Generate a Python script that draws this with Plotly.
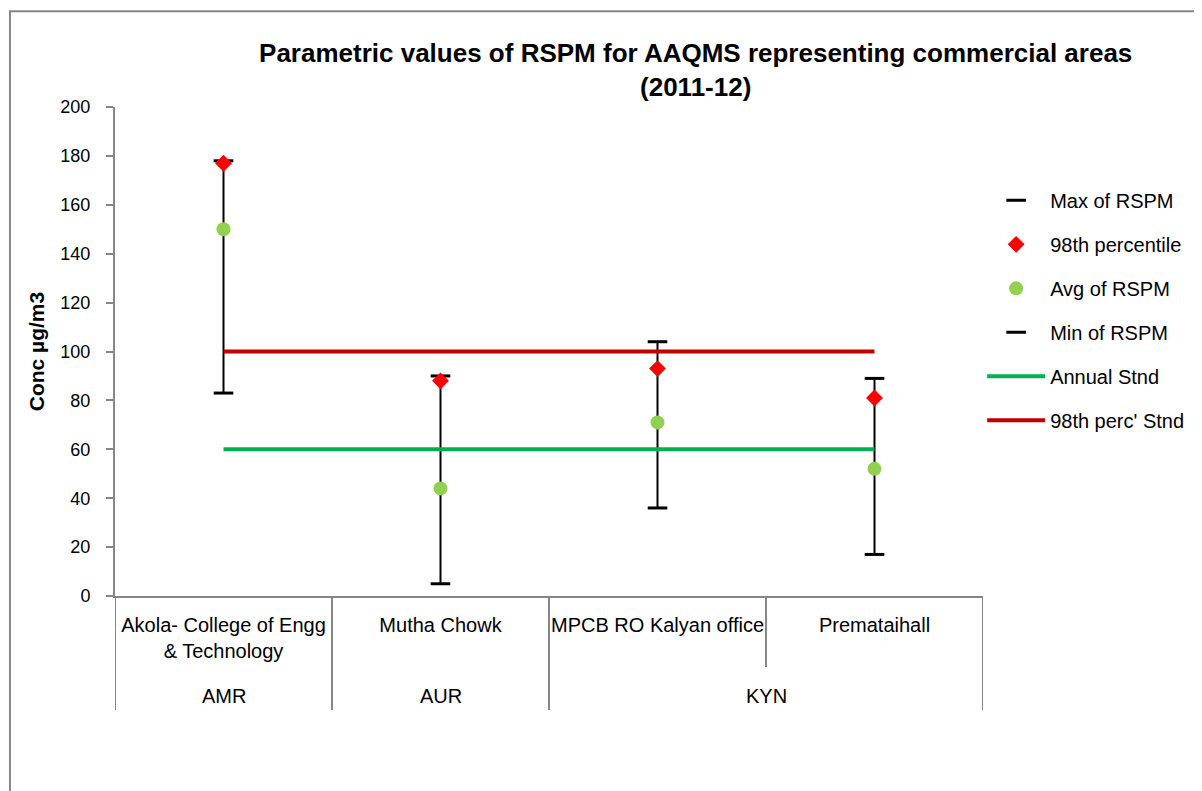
"""
Valores paramétricos de RSPM para estaciones AAQMS en zonas comerciales (2011-12).
"""

import plotly.graph_objects as go

# Estaciones y sus regiones.
SITIOS = [
    "Akola- College of Engg & Technology",
    "Mutha Chowk",
    "MPCB RO Kalyan office",
    "Premataihall",
]
ETIQUETAS = [
    "Akola- College of Engg<br>& Technology",
    "Mutha Chowk",
    "MPCB RO Kalyan office",
    "Premataihall",
]
REGIONES = ["AMR", "AUR", "KYN"]
REGION_POS = [0, 1, 2.5]

# Valores.
MAX_RSPM = [178, 90, 104, 89]
PERC_98 = [177, 88, 93, 81]
AVG_RSPM = [150, 44, 71, 52]
MIN_RSPM = [83, 5, 36, 17]

ANNUAL_STND = [60, 60, 60, 60]
PERC_STND = [100, 100, 100, 100]

FUENTE = "Liberation Sans Narrow, Arial Narrow, Liberation Sans, Arial, sans-serif"
GRIS = "#868686"


fig = go.Figure()

# Líneas de máximo a mínimo.
xs, ys = [], []
for s, a, b in zip(SITIOS, MIN_RSPM, MAX_RSPM):
    xs += [s, s, None]
    ys += [a, b, None]

fig.add_trace(
    go.Scatter(
        x=xs,
        y=ys,
        mode="lines",
        line_color="#000000",
        line_width=2,
        showlegend=False,
        hoverinfo="skip",
    )
)

fig.add_trace(
    go.Scatter(
        x=SITIOS,
        y=ANNUAL_STND,
        mode="lines",
        name="Annual Stnd",
        line_color="#00B050",
        line_width=4,
        legendgroup="e",
        legendrank=5,
    )
)

fig.add_trace(
    go.Scatter(
        x=SITIOS,
        y=PERC_STND,
        mode="lines",
        name="98th perc' Stnd",
        line_color="#C00000",
        line_width=4,
        legendgroup="f",
        legendrank=6,
    )
)

fig.add_trace(
    go.Scatter(
        x=SITIOS,
        y=MAX_RSPM,
        mode="markers",
        name="Max of RSPM",
        marker_symbol="line-ew",
        marker_size=14,
        marker_line_width=3,
        marker_line_color="#000000",
        legendgroup="a",
        legendrank=1,
    )
)

fig.add_trace(
    go.Scatter(
        x=SITIOS,
        y=MIN_RSPM,
        mode="markers",
        name="Min of RSPM",
        marker_symbol="line-ew",
        marker_size=14,
        marker_line_width=3,
        marker_line_color="#000000",
        legendgroup="d",
        legendrank=4,
    )
)

fig.add_trace(
    go.Scatter(
        x=SITIOS,
        y=AVG_RSPM,
        mode="markers",
        name="Avg of RSPM",
        marker_symbol="circle",
        marker_size=14,
        marker_color="#92D050",
        legendgroup="c",
        legendrank=3,
    )
)

fig.add_trace(
    go.Scatter(
        x=SITIOS,
        y=PERC_98,
        mode="markers",
        name="98th percentile",
        marker_symbol="diamond",
        marker_size=13,
        marker_color="#FF0000",
        legendgroup="b",
        legendrank=2,
    )
)

fig.update_xaxes(
    type="category",
    range=[-0.5, 3.5],
    tickvals=SITIOS,
    ticktext=ETIQUETAS,
    ticks="",
    ticklabelstandoff=10,
    tickfont_size=20,
    showline=True,
    linecolor=GRIS,
    linewidth=2,
    showgrid=False,
    zeroline=False,
)

fig.update_yaxes(
    range=[0, 200],
    dtick=20,
    ticks="outside",
    ticklen=7,
    tickwidth=2,
    tickcolor=GRIS,
    tickfont_size=18,
    ticklabelstandoff=12,
    showline=True,
    linecolor=GRIS,
    linewidth=2,
    showgrid=False,
    zeroline=False,
    title_text="<b>Conc µg/m3</b>",
    title_font_size=21,
    title_standoff=10,
)

# Separadores del eje de categorías y marco exterior.
shapes = []
for x, y_fin in [(-0.5, -0.233), (0.5, -0.233), (1.5, -0.233), (2.5, -0.145), (3.5, -0.233)]:
    shapes.append(
        dict(
            type="line",
            xref="x",
            yref="paper",
            x0=x,
            x1=x,
            y0=0,
            y1=y_fin,
            line_color=GRIS,
            line_width=2,
        )
    )

shapes.append(
    dict(
        type="rect",
        xref="paper",
        yref="paper",
        x0=-0.121,
        x1=1.3,
        y0=-0.5,
        y1=1.196,
        line_color=GRIS,
        line_width=2,
    )
)

annotations = [
    dict(
        x=p,
        y=-0.2045,
        xref="x",
        yref="paper",
        xanchor="center",
        yanchor="middle",
        text=r,
        showarrow=False,
        font_size=20,
    )
    for r, p in zip(REGIONES, REGION_POS)
]

fig.update_layout(
    width=1202,
    height=791,
    font_family=FUENTE,
    font_color="#000000",
    font_size=18,
    plot_bgcolor="#FFFFFF",
    paper_bgcolor="#FFFFFF",
    margin_l=107,
    margin_r=227,
    margin_t=99,
    margin_b=203,
    title_text="<b>Parametric values of RSPM for AAQMS representing commercial areas<br>(2011-12)</b>",
    title_font_size=26,
    title_xref="paper",
    title_x=0.669,
    title_xanchor="center",
    title_yref="container",
    title_y=0.9317,
    title_yanchor="middle",
    showlegend=True,
    legend_traceorder="grouped",
    legend_tracegroupgap=15,
    legend_itemwidth=58,
    legend_x=0.999,
    legend_y=0.849,
    legend_xanchor="left",
    legend_yanchor="top",
    legend_font_size=20,
    legend_bgcolor="rgba(0,0,0,0)",
    shapes=shapes,
    annotations=annotations,
)

fig.write_html("out.html")
